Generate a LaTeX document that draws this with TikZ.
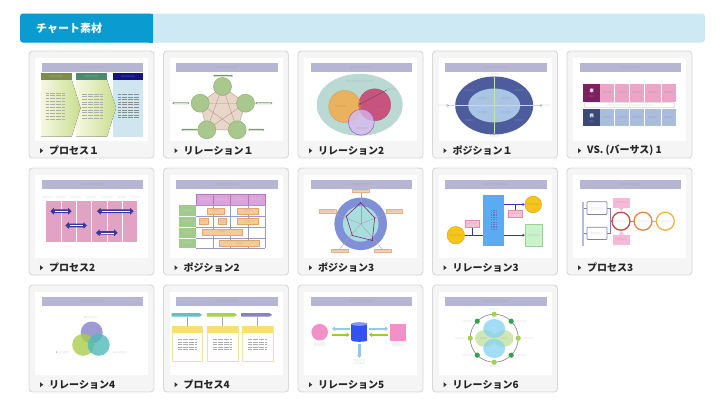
\documentclass[tikz,border=0pt]{standalone}
\usepackage{fontspec}
\newfontfamily\jp{Noto Sans CJK JP}
\usetikzlibrary{shapes.geometric,arrows.meta,calc}
\definecolor{hdrdark}{HTML}{0A9BD0}
\definecolor{hdrlight}{HTML}{CDE9F4}
\definecolor{cardline}{HTML}{D8D8D8}
\definecolor{cardfill}{HTML}{F5F5F5}
\definecolor{barlav}{HTML}{B6B6D4}
\definecolor{phgray}{HTML}{8A8A8A}
\definecolor{p1ha}{HTML}{7D8B4B}\definecolor{p1hb}{HTML}{4C8A70}\definecolor{p1hc}{HTML}{141480}
\definecolor{p1y}{HTML}{F6F8E2}\definecolor{p1g}{HTML}{C9DE8E}\definecolor{p1blue}{HTML}{CFE5F0}
\definecolor{p2pent}{HTML}{E8D6C8}\definecolor{p2line}{HTML}{B09A8A}\definecolor{p2c}{HTML}{A8C88E}\definecolor{p2cd}{HTML}{8FB075}\definecolor{p2bar}{HTML}{7E9A66}
\definecolor{p3ell}{HTML}{BBD9D3}\definecolor{p3or}{HTML}{EAB25E}\definecolor{p3mg}{HTML}{C8547E}\definecolor{p3ov}{HTML}{E27B2E}\definecolor{p3pu}{HTML}{D9B9F2}\definecolor{p3pud}{HTML}{9655C8}
\definecolor{p4out}{HTML}{4C5C9C}\definecolor{p4in}{HTML}{A9C5E3}\definecolor{p4x}{HTML}{C9E2A6}
\definecolor{p5pk}{HTML}{E9A6C6}\definecolor{p5pkd}{HTML}{7E2060}\definecolor{p5bl}{HTML}{AABEDB}\definecolor{p5bld}{HTML}{3C4878}
\definecolor{p6pk}{HTML}{E2A2C4}\definecolor{p6ar}{HTML}{3838A0}
\definecolor{p7hd}{HTML}{DCA2DE}\definecolor{p7hdd}{HTML}{B578C0}\definecolor{p7gr}{HTML}{A2CA8C}\definecolor{p7ln}{HTML}{9A9AC8}\definecolor{p7or}{HTML}{F8C99A}\definecolor{p7ord}{HTML}{E8A466}
\definecolor{p8out}{HTML}{7F8FD8}\definecolor{p8in}{HTML}{A9DDE0}\definecolor{p8poly}{HTML}{7A2E6E}\definecolor{p8lb}{HTML}{F6D3B4}\definecolor{p8lbd}{HTML}{E8B088}
\definecolor{p9bl}{HTML}{5AABF2}\definecolor{p9ye}{HTML}{F6C51A}\definecolor{p9yed}{HTML}{E8A010}\definecolor{p9gr}{HTML}{CBF2CB}\definecolor{p9grd}{HTML}{9AD09A}\definecolor{p9ln}{HTML}{3434A8}\definecolor{p9pk}{HTML}{F2C4D6}\definecolor{p9pkd}{HTML}{D890B0}
\definecolor{p10bar}{HTML}{B8B8E8}\definecolor{p10box}{HTML}{8080A8}\definecolor{p10r}{HTML}{C84848}\definecolor{p10o}{HTML}{E0884A}\definecolor{p10y}{HTML}{E8B448}\definecolor{p10pk}{HTML}{F6BAD8}
\definecolor{p11pu}{HTML}{8E8ACB}\definecolor{p11gr}{HTML}{A9CD4F}\definecolor{p11te}{HTML}{4FB9B9}
\definecolor{p12te}{HTML}{62C2C2}\definecolor{p12gr}{HTML}{A8D250}\definecolor{p12pu}{HTML}{8484C4}\definecolor{p12ye}{HTML}{F8E070}\definecolor{p12yl}{HTML}{F0E2A0}
\definecolor{p13pk}{HTML}{F290C9}\definecolor{p13cy}{HTML}{3252F2}\definecolor{p13lb}{HTML}{92C9F0}\definecolor{p13gr}{HTML}{A8C822}
\definecolor{p14ring}{HTML}{909090}\definecolor{p14lg}{HTML}{A2D252}\definecolor{p14dg}{HTML}{34A24A}\definecolor{p14bl}{HTML}{84D2F2}\definecolor{p14gn}{HTML}{C4E2A2}
\tikzset{
  cardbox/.style={draw=cardline, fill=cardfill, rounded corners=3.5, line width=0.9},
  lbl/.style={font=\jp\bfseries\fontsize{10}{12}\selectfont, anchor=west, inner sep=0pt, text=black!85},
  ph/.style={font=\jp\fontsize{2.3}{2.5}\selectfont, text=phgray, inner sep=0pt},
  phw/.style={ph, text=white},
  phline/.style={draw=phgray!70, line width=0.9, dash pattern=on 0.7 off 0.5},
}
\newcommand\mkcard[4]{%
  \draw[cardbox] (#2,#3) rectangle ++(125,107);
  \fill[white] (#2+6,#3+6.5) rectangle ++(113,83);
  \fill[barlav] (#2+12.5,#3+12.2) rectangle ++(101.5,8.3);
  \node[ph] (#1t) at (#2+63.25,#3+16.35) {○○○○○○○○○○};
  \fill[black!80] (#2+11,#3+97.2) -- ++(3.2,2.5) -- ++(-3.2,2.5) -- cycle;
  \node[lbl] (#1l) at (#2+20,#3+99.7) {#4};
}
\newcommand\darr[3]{%
  \fill[p6ar] (#1,#3) -- (#1+3.5,#3-3.4) -- (#1+3.5,#3-1.8) -- (#2-3.5,#3-1.8) -- (#2-3.5,#3-3.4) -- (#2,#3) -- (#2-3.5,#3+3.4) -- (#2-3.5,#3+1.8) -- (#1+3.5,#3+1.8) -- (#1+3.5,#3+3.4) -- cycle;
  \draw[white, line width=0.5, dash pattern=on 0.5 off 0.5] (#1+4.5,#3) -- (#2-4.5,#3);
}
\begin{document}
\begin{tikzpicture}[x=1pt,y=-1pt]
\useasboundingbox (0,0) rectangle (728,407);
\fill[white] (0,0) rectangle (728,407);
% header
\fill[hdrlight, rounded corners=3] (20,13.5) rectangle (705,42.5);
\fill[hdrdark, rounded corners=3] (20,13.5) rectangle (153,42.5);
\fill[hdrdark] (149,13.5) rectangle (153,42.5);
\node[font=\jp\bfseries\fontsize{11}{13}\selectfont, text=white, anchor=west, inner sep=0pt] (hdr) at (36,28.5) {チャート素材};
% cards
\mkcard{c1}{29}{51}{プロセス１}
\mkcard{c2}{163.5}{51}{リレーション１}
\mkcard{c3}{298}{51}{リレーション2}
\mkcard{c4}{432.5}{51}{ポジション１}
\mkcard{c5}{567}{51}{VS. (バーサス) 1}
\mkcard{c6}{29}{168}{プロセス2}
\mkcard{c7}{163.5}{168}{ポジション2}
\mkcard{c8}{298}{168}{ポジション3}
\mkcard{c9}{432.5}{168}{リレーション3}
\mkcard{c10}{567}{168}{プロセス3}
\mkcard{c11}{29}{285}{リレーション4}
\mkcard{c12}{163.5}{285}{プロセス4}
\mkcard{c13}{298}{285}{リレーション5}
\mkcard{c14}{432.5}{285}{リレーション6}

% ---------- T1 process 1
\begin{scope}[shift={(35,57.5)}]
  \fill[p1blue] (77.7,22.3) rectangle (108.3,79);
  \fill[left color=p1y, right color=p1g] (41,22.3) -- (72,22.3) -- (81,50.5) -- (72,79) -- (41,79) -- cycle;
  \fill[left color=p1y, right color=p1g] (6,22.3) -- (36.7,22.3) -- (45.5,50.5) -- (36.7,79) -- (6,79) -- cycle;
  \fill[p1ha] (6,15.7) rectangle (36.7,22.3);
  \fill[p1hb] (41,15.7) rectangle (72,22.3);
  \fill[p1hc] (77.7,15.7) rectangle (108.3,22.3);
  \node[phw] (t1a) at (21.35,19) {○○○○○○};
  \node[phw] (t1b) at (56.5,19) {○○○○○○};
  \node[phw] (t1c) at (93,19) {○○○○○○};
  \foreach \k in {0,...,9} {
    \draw[phline] (11,35.5+\k*2.9) -- (29.3,35.5+\k*2.9);
    \draw[phline] (46.5,36.5+\k*2.7) -- (67.5,36.5+\k*2.7);
    \draw[phline, draw=gray!90] (83,37+\k*2.6) -- (104,37+\k*2.6);
  }
\end{scope}

% ---------- T2 relation 1
\begin{scope}[shift={(169.5,57.5)}]
  \coordinate (r1a) at (53,29);
  \coordinate (r1b) at (76,45.7);
  \coordinate (r1c) at (67.7,72.3);
  \coordinate (r1d) at (37.3,72.3);
  \coordinate (r1e) at (30.7,45.7);
  \fill[p2pent, draw=p2line, line width=0.4] (r1a) -- (r1b) -- (r1c) -- (r1d) -- (r1e) -- cycle;
  \draw[p2line, line width=0.4] (r1a) -- (r1c) -- (r1e) -- (r1b) -- (r1d) -- cycle;
  \foreach \p in {r1a,r1b,r1c,r1d,r1e} \fill[p2c, draw=p2cd, line width=0.5] (\p) circle (9);
  \foreach \a/\b/\c in {44/63/18.3, 3/19.5/45.7, 86/102.5/45.7, 12/28/72.3, 79/94.5/72.3} {
    \fill[p2bar, rounded corners=0.4] (\a,\c-0.9) rectangle (\b,\c+0.9);
    \draw[white!70!p2bar, line width=0.3, dash pattern=on 0.5 off 0.4] (\a+1.5,\c) -- (\b-1.5,\c);
  }
\end{scope}

% ---------- T3 relation 2
\begin{scope}[shift={(304,57.5)}]
  \fill[p3ell] (55.7,47.3) ellipse (43 and 31);
  \fill[p3or, draw=p3or!85!black, line width=0.3] (40.7,49) circle (16);
  \fill[p3mg, draw=p3mg!85!black, line width=0.3] (70.7,47.3) circle (16);
  \begin{scope}
    \clip (40.7,49) circle (16);
    \fill[p3ov] (70.7,47.3) circle (16);
  \end{scope}
  \fill[p3pu, fill opacity=0.75, draw=p3pud, line width=0.5] (57.3,64.7) circle (13);
  \node[ph] (t3top) at (55.7,24) {○○○○○○○○○○○○};
  \node[ph, text=black!60] (t3o) at (37,49) {○○○○○};
  \node[ph, text=black!60] (t3m) at (75,49) {○○○○○};
  \node[ph, text=black!60] (t3p) at (57.3,71) {○○○○○};
  \node[ph, text=black!60] (t3r) at (88,32.3) {○○○○};
  \draw[black!70, line width=0.35] (56,46.5) -- (t3r.west);
  \fill[black!70] (56,46.5) circle (0.8);
\end{scope}

% ---------- T4 position 1
\begin{scope}[shift={(438.5,57.5)}]
  \fill[p4out] (55.7,48) ellipse (39 and 29);
  \fill[p4in] (55.7,48) ellipse (26 and 17);
  \draw[p4x, line width=1.1] (9,48) -- (102.5,48);
  \draw[p4x, line width=1.1] (55.7,19.5) -- (55.7,76.5);
  \foreach \q in {(9,48),(102.5,48),(55.7,19.5),(55.7,76.5)} \fill[white, draw=gray, line width=0.2] \q circle (0.9);
  \node[ph] (t4t) at (55.7,17) {○○○○};
  \node[ph] (t4b) at (55.7,79) {○○○○};
  \node[ph] (t4l) at (4.5,48) {○○○○};
  \node[ph] (t4r) at (107.5,48) {○○○○};
  \node[ph, text=white!85!blue] (t4a) at (30.7,33.3) {○○○○};
  \node[ph, text=white!85!blue] (t4b2) at (80.7,33.3) {○○○○};
  \node[ph, text=white!85!blue] (t4c) at (30.7,63.3) {○○○○};
  \node[ph, text=white!85!blue] (t4d) at (80.7,63.3) {○○○○};
  \node[ph, text=black!60] (t4e) at (43.5,40.7) {○○○○};
  \node[ph, text=black!60] (t4f) at (67.5,40.7) {○○○○};
  \node[ph, text=black!60] (t4g) at (43.5,55) {○○○○};
  \node[ph, text=black!60] (t4h) at (67.5,55) {○○○○};
\end{scope}

% ---------- T5 VS
\begin{scope}[shift={(573,57.5)}]
  \fill[p5pk] (10,26.7) rectangle (103.4,44);
  \fill[p5pkd] (10,26.7) rectangle (27.4,44);
  \fill[p5bl] (10,51.4) rectangle (103.4,68.4);
  \fill[p5bld] (10,51.4) rectangle (27.4,68.4);
  \foreach \xx in {41.7,56.7,71.7,88.4} {
    \draw[white, line width=0.5] (\xx,26.7) -- (\xx,44);
    \draw[white, line width=0.5] (\xx,51.4) -- (\xx,68.4);
  }
  \draw[gray!60, line width=0.3, fill=white, rounded corners=1] (11.5,45.2) rectangle (101.5,50.2);
  \node[ph] (t5s) at (56.7,47.7) {○○○○○○○○○○○○○○○○○○○○};
  \node[font=\jp\bfseries\fontsize{4.2}{4.2}\selectfont, text=white, inner sep=0pt] (t5e) at (18.7,33.8) {東};
  \node[phw] (t5e2) at (18.7,39.3) {○○};
  \node[font=\jp\bfseries\fontsize{4.2}{4.2}\selectfont, text=white, inner sep=0pt] (t5w) at (18.7,58.4) {西};
  \node[phw] (t5w2) at (18.7,63.8) {○○};
  \foreach \xx in {34.5,49.2,64.2,80,95.9} {
    \node[ph, text=p5pkd!70] at (\xx,35.3) {○○○○};
    \node[ph, text=p5bld!80] at (\xx,59.9) {○○○○};
  }
\end{scope}

% ---------- T6 process 2
\begin{scope}[shift={(35,174.5)}]
  \fill[p6pk] (11,26) rectangle (102,67.3);
  \foreach \xx in {26,41,56,72,87} \draw[white, line width=0.5] (\xx,26) -- (\xx,67.3);
  \foreach \xx in {12,26,41,56,72,87,101} \node[ph] at (\xx,23.6) {○○○○};
  \darr{15.3}{36.7}{36.7}
  \darr{62}{98.7}{36.7}
  \darr{30.3}{52}{51}
  \darr{61}{82.7}{58.3}
\end{scope}

% ---------- T7 position 2
\begin{scope}[shift={(169.5,174.5)}]
  \fill[p7hd, draw=p7hdd, line width=0.4] (26.7,20) rectangle (95.7,30.5);
  \foreach \xx in {43.3,60.7,78.3} \draw[p7hdd, line width=0.4] (\xx,20) -- (\xx,30.5);
  \foreach \xx in {35,52,69.5,87} \node[ph, text=white] at (\xx,25.3) {○○○○○};
  \fill[p7gr] (9,30.7) rectangle (26,73.8);
  \foreach \yy in {41.7,52.7,63.3} \draw[white, line width=0.6] (9,\yy) -- (26,\yy);
  \foreach \yy in {36.2,47.2,58,68.5} \node[ph, text=white] at (17.5,\yy) {○○○○};
  \foreach \yy in {30.7,41.7,52.7,63.3,73.8} \draw[p7ln, line width=0.45] (26.7,\yy) -- (95.7,\yy);
  \foreach \xx in {43.3,60.7,78.3,95.7} \draw[p7ln, line width=0.45] (\xx,30.5) -- (\xx,73.8);
  \foreach \a/\b/\c/\d in {37.3/33.3/55/39.3, 67.3/33.3/89/39.3, 30/44/38.3/50, 48.3/44/56.7/50, 67.3/44/89/50, 32.7/54.3/72.3/60.7, 50/65.7/90/71.7} {
    \fill[p7or, draw=p7ord, line width=0.3] (\a,\b) rectangle (\c,\d);
    \node[ph, text=black!55] at ({(\a+\c)/2},{(\b+\d)/2}) {○○○};
  }
\end{scope}

% ---------- T8 position 3
\begin{scope}[shift={(304,174.5)}]
  \coordinate (o8) at (56.7,49.3);
  \fill[p8out] (o8) circle (26.3);
  \fill[p8in] (o8) circle (17.8);
  \foreach \q in {(56.7,17.5),(25,37),(88.4,37),(35.7,74.5),(78,74.5)} \draw[gray!70, line width=0.4] (o8) -- \q;
  \draw[p8poly, line width=0.6] (56.7,28.3) -- (70.7,43.3) -- (68.3,66) -- (48.3,61) -- (42.3,41.7) -- cycle;
  \foreach \q in {(56.7,28.3),(70.7,43.3),(68.3,66),(48.3,61),(42.3,41.7)} \fill[p8poly] \q circle (0.8);
  \foreach \q/\nm in {(56.7,16)/l1,(23.3,36.7)/l2,(90,36.7)/l3,(35.7,76)/l4,(78.3,76)/l5} {
    \node[ph, fill=p8lb, draw=p8lbd, line width=0.2, inner xsep=1.5, inner ysep=0.8, text=black!55] (t8\nm) at \q {○○○○○○};
  }
\end{scope}

% ---------- T9 relation 3
\begin{scope}[shift={(438.5,174.5)}]
  \fill[p9bl] (44,20) rectangle (65.7,71.7);
  \foreach \yy in {0,...,8} \foreach \xx in {52.3,54.8,57.3} \fill[p9ln!70] (\xx,35+\yy*2.4) rectangle ++(1.3,1.2);
  \draw[p9ln, line width=0.9] (26,60.7) -- (44,60.7);
  \draw[p9ln, line width=0.9, -{Triangle[length=2.2,width=2.6]}] (65.7,30) -- (86.4,30);
  \draw[p9ln, line width=0.9, -{Triangle[length=2.2,width=2.6]}] (65.7,60.7) -- (86.3,60.7);
  \draw[p9ln, line width=0.6] (34,52.7) -- (34,60.7);
  \draw[p9ln, line width=0.6] (76.7,36) -- (76.7,30);
  \fill[p9ye, draw=p9yed, line width=0.5] (94.7,30) circle (8.3);
  \fill[p9ye, draw=p9yed, line width=0.5] (17.3,60.7) circle (8.7);
  \fill[p9gr, draw=p9grd, line width=0.4] (86.3,50) rectangle (104,71.7);
  \fill[p9pk, draw=p9pkd, line width=0.4] (26.3,46) rectangle (40.7,52.7);
  \fill[p9pk, draw=p9pkd, line width=0.4] (70,36) rectangle (84,42.7);
  \node[ph, text=black!60] (t9a) at (94.7,30) {○○○○○};
  \node[ph, text=black!60] (t9b) at (17.3,60.7) {○○○○○};
  \node[ph, text=black!60] (t9c) at (95.2,60.8) {○○○○○};
  \node[ph, text=p9pkd!80!black] (t9d) at (33.5,49.3) {○○○○○};
  \node[ph, text=p9pkd!80!black] (t9e) at (77,39.3) {○○○○○};
\end{scope}

% ---------- T10 process 3
\begin{scope}[shift={(573,174.5)}]
  \fill[p10bar] (9,27.3) rectangle (11.3,71.7);
  \draw[p10box, line width=0.5] (11.3,33.7) -- (14,33.7) (11.3,58.8) -- (14,58.8);
  \draw[p10box, line width=0.5] (34,33.7) -- (37,33.7) -- (37,58.8) -- (34,58.8) (37,46.7) -- (39,46.7);
  \fill[white, draw=p10box, line width=0.7, rounded corners=0.8] (14,27.3) rectangle (34,40);
  \fill[white, draw=p10box, line width=0.7, rounded corners=0.8] (14,52.7) rectangle (34,65);
  \node[ph] (t10a) at (24,33.7) {○○○○○};
  \node[ph] (t10b) at (24,58.8) {○○○○○};
  \fill[p10pk] (40,23.3) rectangle (56.7,33.3);
  \fill[p10pk] (45.8,33.3) -- (50.8,33.3) -- (48.3,36.3) -- cycle;
  \fill[p10pk] (40,60) rectangle (56.7,70);
  \fill[p10pk] (45.8,60) -- (50.8,60) -- (48.3,57) -- cycle;
  \node[ph, text=black!55] (t10c) at (48.3,28.3) {○○○○○};
  \node[ph, text=black!55] (t10d) at (48.3,65) {○○○○○};
  \draw[p10o, line width=0.8] (57,46.7) -- (61,46.7);
  \draw[p10y, line width=0.8] (79,46.7) -- (83.3,46.7);
  \draw[fill=white, draw=p10r, line width=1.3] (48,46.7) circle (9);
  \draw[fill=white, draw=p10o, line width=1.3] (70,46.7) circle (9);
  \draw[fill=white, draw=p10y, line width=1.3] (92.3,46.7) circle (9);
  \node[ph] (t10e) at (48,46.7) {○○○○○};
  \node[ph] (t10f) at (70,46.7) {○○○○○};
  \node[ph] (t10g) at (92.3,46.7) {○○○○○};
\end{scope}

% ---------- T11 relation 4
\begin{scope}[shift={(35,291.5)}]
  \fill[p11pu, fill opacity=0.85] (56.7,41) circle (11);
  \fill[p11gr, fill opacity=0.8] (48.2,53.3) circle (11);
  \fill[p11te, fill opacity=0.8] (63.7,53.3) circle (11);
  \node[ph] (t11a) at (56,26) {A ○○○○○};
  \node[ph] (t11b) at (27.7,60.7) {B ○○○○○};
  \node[ph] (t11c) at (85,60.7) {C ○○○○○};
\end{scope}

% ---------- T12 process 4
\begin{scope}[shift={(169.5,291.5)}]
  \foreach \xa/\xb/\cc in {2/32.7/p12te, 37.3/67.7/p12gr, 71.7/102.7/p12pu} {
    \fill[\cc] (\xa,21.6) -- (\xb-2.8,21.6) -- (\xb,23.35) -- (\xb-2.8,25.1) -- (\xa,25.1) -- cycle;
  }
  \foreach \xa/\xb in {2.3/32.7, 37.3/68.3, 72.3/103.3} {
    \draw[gray!70, line width=0.4] ({(\xa+\xb)/2},25.1) -- ({(\xa+\xb)/2},34.3);
    \fill[white, draw=p12yl, line width=0.5] (\xa,34.3) rectangle (\xb,70);
    \fill[p12ye] (\xa,34.3) rectangle (\xb,41);
    \foreach \k in {0,...,4} \draw[phline] (\xa+6,48+\k*2.5) -- (\xb-6,48+\k*2.5);
  }
\end{scope}

% ---------- T13 relation 5
\begin{scope}[shift={(304,291.5)}]
  \fill[p13pk] (15.7,40.7) circle (8.3);
  \fill[p13pk] (85.7,32.7) rectangle (102.3,49.3);
  \draw[p13lb, line width=2.6, -{Triangle[length=3,width=4.4]}] (45.5,37.3) -- (28,37.3);
  \draw[p13gr, line width=2.6, -{Triangle[length=3,width=4.4]}] (28,43.3) -- (45.5,43.3);
  \draw[p13lb, line width=2.6, -{Triangle[length=3,width=4.4]}] (65,37.3) -- (84,37.3);
  \draw[p13gr, line width=2.6, -{Triangle[length=3,width=4.4]}] (84,43.3) -- (65,43.3);
  \draw[p13lb, line width=2.6, -{Triangle[length=3,width=4.4]}] (55.3,52) -- (55.3,66.5);
  \fill[p13cy] (47.3,32.5) rectangle (63.3,48.5);
  \fill[p13cy] (55.3,48.5) ellipse (8 and 1.8);
  \fill[p13cy!60!white] (55.3,32.5) ellipse (8 and 1.8);
  \node[ph] (t13a) at (15.7,52.4) {○○○○○};
  \node[ph] (t13b) at (15.7,54.6) {○○○○○};
  \node[ph] (t13c) at (94,52.4) {○○○○○};
  \node[ph] (t13d) at (94,54.6) {○○○○○};
  \node[ph] (t13e) at (55.3,69.5) {○○○○○};
  \node[ph] (t13f) at (55.3,71.7) {○○○○○};
\end{scope}

% ---------- T14 relation 6
\begin{scope}[shift={(438.5,291.5)}]
  \coordinate (o14) at (55.7,46.7);
  \draw[p14ring, line width=0.7] (o14) circle (24);
  \fill[p14gn, fill opacity=0.8] (46.5,47) ellipse (10 and 8.5);
  \fill[p14gn, fill opacity=0.8] (65,47) ellipse (10 and 8.5);
  \fill[p14bl, fill opacity=0.75] (55.7,37) ellipse (11 and 9.5);
  \fill[p14bl, fill opacity=0.75] (55.7,57) ellipse (11 and 9.5);
  \foreach \ang in {0,90,180,270} \fill[p14lg] ($(o14)+(\ang:24)$) circle (2.6);
  \foreach \ang in {45,135,225,315} \fill[p14dg] ($(o14)+(\ang:24)$) circle (2.6);
  \foreach \q in {(55.7,18.5),(55.7,75.5),(21.5,47),(90,47),(28.5,30.5),(83,30.5),(28.5,64.5),(83,64.5)} \node[ph] at \q {○○○○};
  \node[ph, text=white] (t14a) at (55.7,37) {○○○};
  \node[ph, text=white] (t14b) at (55.7,57) {○○○};
  \node[ph, text=black!50] (t14c) at (45,47) {○○○};
  \node[ph, text=black!50] (t14d) at (66,47) {○○○};
\end{scope}
\end{tikzpicture}
\end{document}
